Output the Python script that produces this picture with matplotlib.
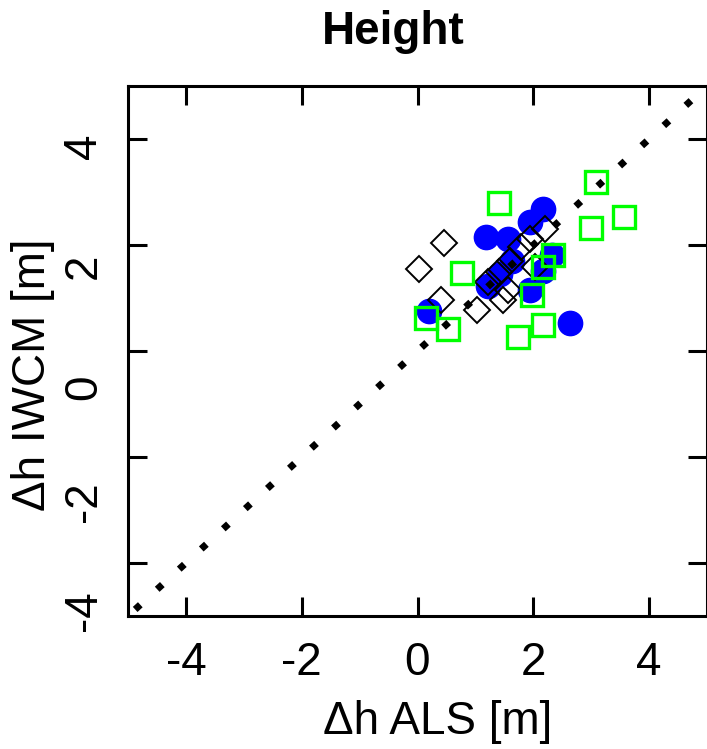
import matplotlib
matplotlib.use("Agg")
import matplotlib.pyplot as plt

plt.rcParams['font.family'] = ['Liberation Sans', 'DejaVu Sans']

# values (delta h from ALS vs IWCM, metres)
als_blue = [2.16, 1.95, 1.19, 1.57, 2.33, 2.16, 1.21, 1.43, 1.64, 1.95, 2.64, 0.19]
iwcm_blue = [2.67, 2.43, 2.16, 2.11, 1.82, 1.51, 1.22, 1.45, 1.69, 1.16, 0.52, 0.75]

als_diam = [0.45, 0.02, 0.41, 1.03, 1.47, 1.57, 1.22, 1.40, 1.60, 1.78, 2.03, 2.21, 1.95]
iwcm_diam = [2.03, 1.54, 0.97, 0.78, 0.97, 1.16, 1.31, 1.50, 1.69, 1.96, 1.58, 2.30, 2.11]

als_green = [1.41, 3.09, 3.57, 3.00, 0.76, 0.14, 0.52, 2.34, 2.17, 1.98, 2.17, 1.74]
iwcm_green = [2.79, 3.19, 2.52, 2.32, 1.48, 0.63, 0.41, 1.82, 1.58, 1.05, 0.50, 0.27]

lims = [-5, 5]
ticks = [-4, -2, 0, 2, 4]
tick_text = ['-4', '-2', '0', '2', '4']
# the y labels in the source sit a bit below their ticks
ylab_pos = [-4.90, -2.85, -0.69, 1.60, 3.87]

W, H = 707, 749
fig = plt.figure(figsize=(W / 100, H / 100), dpi=100)
ax = fig.add_axes([128 / W, 1 - 616 / H, 579 / W, 530 / H])

ax.plot(als_blue, iwcm_blue, ls='none', marker='o', ms=17.5,
        color='#0000ff', mec='#0000ff', zorder=2)
ax.plot(als_diam, iwcm_diam, ls='none', marker='D', ms=13, mfc='none',
        mec='black', mew=1.4, zorder=3)
ax.plot(als_green, iwcm_green, ls='none', marker='s', ms=16.5, mfc='none',
        mec='#00ff00', mew=2.4, zorder=4)
ax.plot(lims, lims, color='black', lw=5, ls=(2.9, (1, 3.3)),
        dash_capstyle='butt', zorder=5)

ax.set_xlim(lims)
ax.set_ylim(lims)
ax.set_xticks(ticks, tick_text)
ax.set_yticks(ticks)
ax.set_yticks(ylab_pos, tick_text, minor=True)

for sp in ax.spines.values():
    sp.set_linewidth(2.2)
ax.tick_params(which='major', direction='in', length=14, width=2.2,
               top=True, right=True, labelsize=33, pad=18)
ax.tick_params(axis='y', which='major', labelleft=False)
ax.tick_params(axis='y', which='minor', length=0, labelsize=33,
               labelrotation=90, pad=16)
ax.tick_params(axis='x', which='minor', bottom=False, top=False)
for lbl in ax.get_yticklabels(minor=True):
    lbl.set_va('center')

fig.text(393 / W, 1 - 32 / H, 'Height', fontsize=33, fontweight='bold',
         ha='center', va='center')
fig.text(438 / W, 1 - 722 / H, 'Δh ALS [m]', fontsize=33,
         ha='center', va='center')
fig.text(33 / W, 1 - 375 / H, 'Δh IWCM [m]', fontsize=33, rotation=90,
         ha='center', va='center')

fig.savefig('out.png', dpi=100)
